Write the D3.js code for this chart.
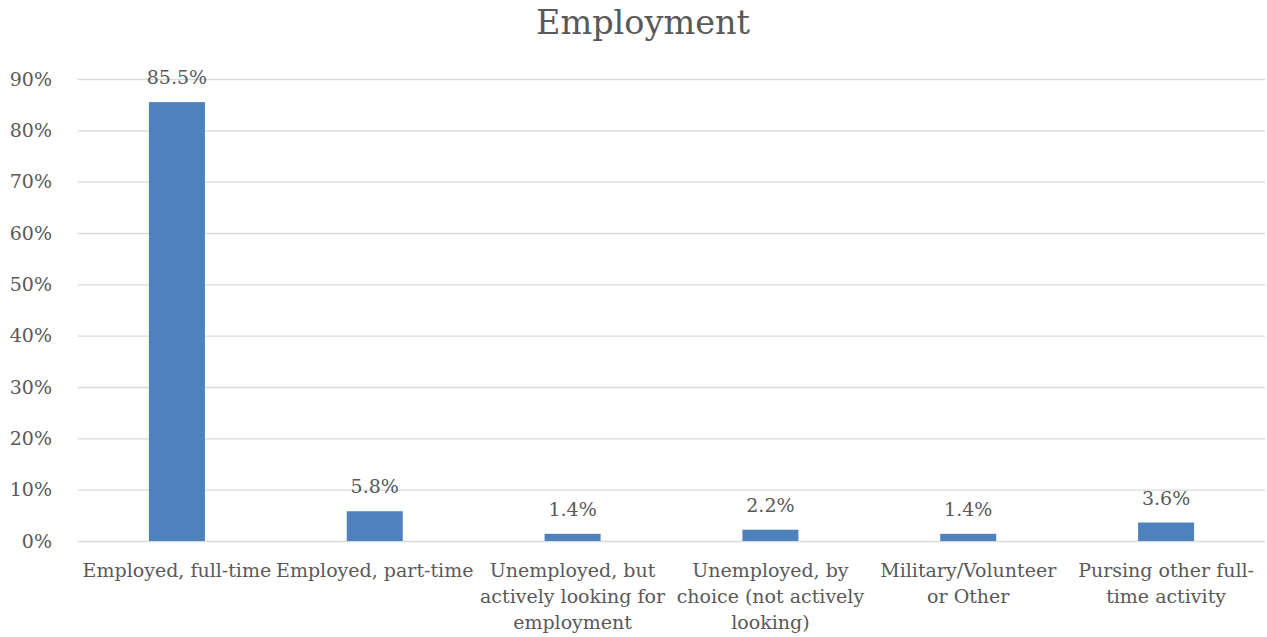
<!DOCTYPE html>
<html>
<head>
<meta charset="utf-8">
<script src="https://cdn.jsdelivr.net/npm/d3@7"></script>
<style>
  body { margin: 0; background: #fff; }
  text { font-family: "Palatino Linotype", "Book Antiqua", Palatino, "DejaVu Serif", serif; fill: #595959; }
</style>
</head>
<body>
<div id="viz"></div>
<script>
// chart data
var categories = [
  'Employed, full-time',
  'Employed, part-time',
  'Unemployed, but\nactively looking for\nemployment',
  'Unemployed, by\nchoice (not actively\nlooking)',
  'Military/Volunteer\nor Other',
  'Pursing other full-\ntime activity'
];
var values = [0.855, 0.058, 0.014, 0.022, 0.014, 0.036];
var yTicks = [0, 0.1, 0.2, 0.3, 0.4, 0.5, 0.6, 0.7, 0.8, 0.9];

var width = 1267, height = 637;
var plotLeft = 78, plotRight = 1265, plotTop = 79, plotBottom = 541;

var svg = d3.select('#viz').append('svg')
  .attr('width', width)
  .attr('height', height);

// title
svg.append('text')
  .attr('x', 643)
  .attr('y', 34)
  .attr('text-anchor', 'middle')
  .style('font-size', '33.5px')
  .text('Employment');

var x = d3.scaleBand().domain(d3.range(categories.length)).range([plotLeft, plotRight]);
var y = d3.scaleLinear().domain([0, 0.9]).range([plotBottom, plotTop]);

// gridlines
svg.append('g')
  .selectAll('line')
  .data(yTicks)
  .enter()
  .append('line')
  .attr('x1', plotLeft)
  .attr('x2', plotRight)
  .attr('y1', function (d) { return y(d) + 0.5; })
  .attr('y2', function (d) { return y(d) + 0.5; })
  .attr('stroke', '#d9d9d9')
  .attr('stroke-width', 1.3);

// y axis labels
var yAxis = d3.axisLeft(y).tickValues(yTicks).tickFormat(d3.format('.0%')).tickSize(0).tickPadding(26);
var yg = svg.append('g')
  .attr('transform', 'translate(' + plotLeft + ',0)')
  .call(yAxis);
yg.select('.domain').remove();
yg.selectAll('text')
  .style('font-size', '19px')
  .style('font-family', null)
  .attr('fill', '#595959');

// bars
var barW = 56;
svg.append('g')
  .selectAll('rect')
  .data(values)
  .enter()
  .append('rect')
  .attr('x', function (d, i) { return x(i) + x.bandwidth() / 2 - barW / 2; })
  .attr('y', function (d) { return y(d); })
  .attr('width', barW)
  .attr('height', function (d) { return plotBottom - y(d); })
  .attr('fill', '#4f81bd');

// value labels
svg.append('g')
  .selectAll('text')
  .data(values)
  .enter()
  .append('text')
  .attr('x', function (d, i) { return x(i) + x.bandwidth() / 2; })
  .attr('y', function (d) { return y(d) - 18; })
  .attr('text-anchor', 'middle')
  .style('font-size', '19px')
  .text(function (d) { return d3.format('.1%')(d); });

// category labels
var cat = svg.append('g')
  .selectAll('text')
  .data(categories)
  .enter()
  .append('text')
  .attr('x', function (d, i) { return x(i) + x.bandwidth() / 2; })
  .attr('y', 577)
  .attr('text-anchor', 'middle')
  .style('font-size', '19px');
cat.each(function (d) {
  var t = d3.select(this);
  d.split('\n').forEach(function (line, k) {
    t.append('tspan')
      .attr('x', t.attr('x'))
      .attr('dy', k === 0 ? 0 : 26)
      .text(line);
  });
});
</script>
</body>
</html>
